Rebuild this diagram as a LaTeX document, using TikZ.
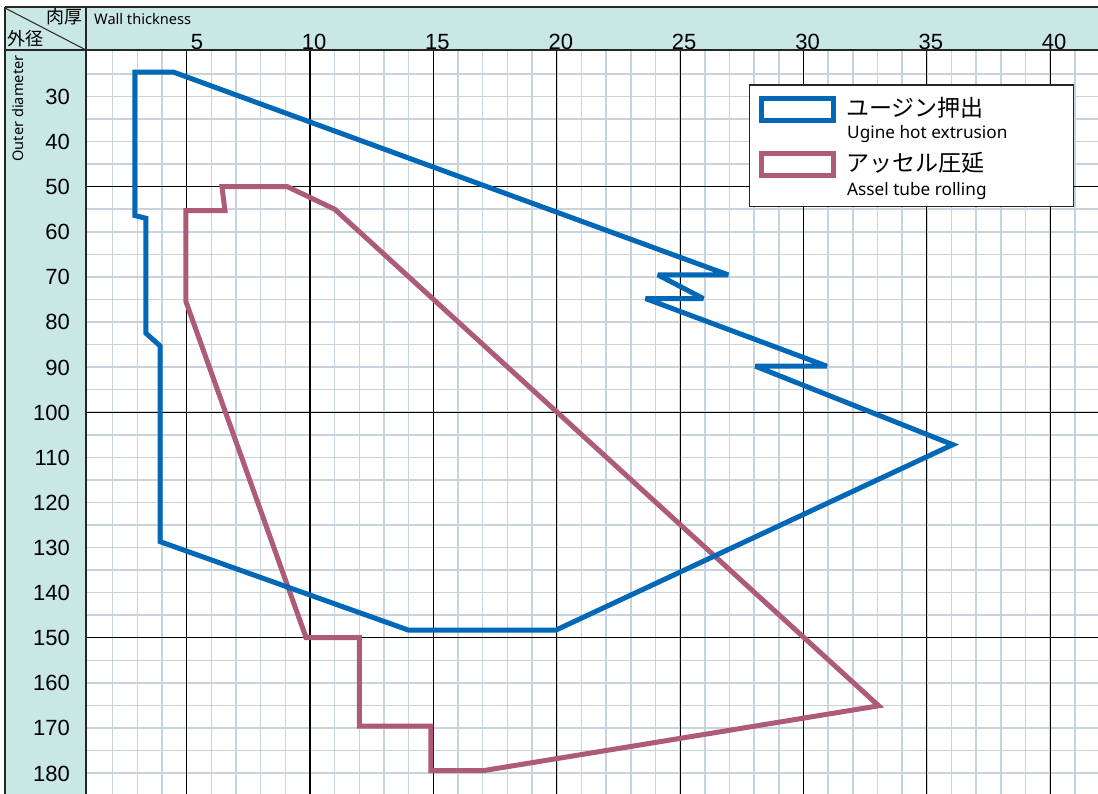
\documentclass[tikz,border=0pt]{standalone}
\usepackage{fontspec}
\setmainfont{Noto Sans}
\newfontfamily\jpfont{Noto Sans CJK JP}
\newfontfamily\numfont{Liberation Sans}
\definecolor{hdr}{HTML}{C9E7E3}
\definecolor{ublue}{HTML}{0068B7}
\definecolor{apink}{HTML}{AE5B78}
\definecolor{gridminor}{HTML}{C8D4DD}
\begin{document}
\begin{tikzpicture}[x=1pt,y=-1pt,
  minorgrid/.style={draw=gridminor, line width=1.5pt},
  majorgrid/.style={draw=black, line width=1.2pt},
  framel/.style={draw=black!85, line width=1.4pt},
  ugine/.style={draw=ublue, line width=5pt, line join=miter, miter limit=4},
  assel/.style={draw=apink, line width=5pt, line join=miter, miter limit=4},
  numlbl/.style={font=\numfont\fontsize{22}{24}\selectfont, inner sep=0pt},
  jphead/.style={font=\jpfont\fontsize{18}{20}\selectfont, inner sep=0pt},
  enhead/.style={font=\fontsize{14.6}{16}\selectfont, inner sep=0pt},
  jplegend/.style={font=\jpfont\fontsize{23}{25}\selectfont, inner sep=0pt, anchor=base west},
  enlegend/.style={font=\fontsize{17.2}{19}\selectfont, inner sep=0pt, anchor=base west},
  legendbox/.style={draw=black!85, line width=1.2pt, fill=white}
]
\useasboundingbox (0,0) rectangle (1098,794);
\fill[white] (0,0) rectangle (1098,794);
% header band and left column
\fill[hdr] (5,8) rectangle (1098,50);
\fill[hdr] (5,50) rectangle (86,794);

\begin{scope}[shift={(63.35pt,38.8pt)}, x=24.67pt, y=-4.51pt]
  % grid
  \foreach \t in {2,...,41} \draw[minorgrid] (\t,19.7) -- (\t,184.7);
  \foreach \d in {25,30,...,180} \draw[minorgrid] (0.92,\d) -- (41.95,\d);
  \foreach \t in {5,10,...,40} \draw[majorgrid] (\t,19.7) -- (\t,184.7);
  \foreach \d in {50,100,150} \draw[majorgrid] (0.92,\d) -- (41.95,\d);
  % axis numbers
  \foreach \t in {5,10,...,40}
    \node[numlbl, anchor=base east] (xl\t) at ([xshift=16.5pt]\t,19.58) {\t};
  \foreach \d in {30,40,...,180}
    \node[numlbl, anchor=base east] (yl\d) at ([yshift=-8pt]0.27,\d) {\d};
  % Assel tube rolling
  \draw[assel] (6.43,50.0) -- (9.08,50.0) -- (11.0,55.0) -- (33.05,165.1)
    -- (17.0,179.5) -- (14.9,179.5) -- (14.9,169.6) -- (12.0,169.6)
    -- (12.0,150.0) -- (9.84,150.0) -- (4.97,75.5) -- (4.97,55.3)
    -- (6.55,55.3) -- cycle;
  % Ugine hot extrusion
  \draw[ugine] (2.9,24.6) -- (4.47,24.6) -- (26.95,69.55) -- (24.1,69.55)
    -- (25.94,74.8) -- (23.6,74.8) -- (30.95,89.8) -- (28.05,89.8)
    -- (36.05,107.2) -- (19.97,148.3) -- (13.98,148.3) -- (3.92,128.7)
    -- (3.92,85.3) -- (3.35,82.5) -- (3.35,57) -- (2.9,56.4) -- cycle;
\end{scope}

% frame lines
\draw[framel] (5,50) -- (1098,50);
\draw[framel] (86,8) -- (86,794);
\draw[draw=black!85, line width=2pt] (5,7.5) -- (1098,7.5);
\draw[draw=black!85, line width=1.8pt] (5,7) -- (5,794);
\draw[draw=black!85, line width=1pt] (5,8) -- (86,50);

% header texts
\node[jphead, anchor=base east] (hnik) at (83,24) {肉厚};
\node[jphead, anchor=base west] (hgai) at (7,46) {外径};
\node[enhead, anchor=base west] (hwall) at (94,24.3) {Wall thickness};
\node[enhead, rotate=90] (hout) at (18.5,108.5) {Outer diameter};

% legend
\draw[legendbox] (749.3,85) rectangle (1073.3,206.7);
\draw[ugine, fill=white] (761.8,98.5) rectangle (833.2,120.2);
\draw[assel, fill=white] (761.8,153.2) rectangle (833.2,175.8);
\node[jplegend] (lg1) at (846,117) {ユージン押出};
\node[enlegend] (lg1e) at (847,138.3) {Ugine hot extrusion};
\node[jplegend] (lg2) at (846,172) {アッセル圧延};
\node[enlegend] (lg2e) at (847,195.5) {Assel tube rolling};
\end{tikzpicture}
\end{document}
